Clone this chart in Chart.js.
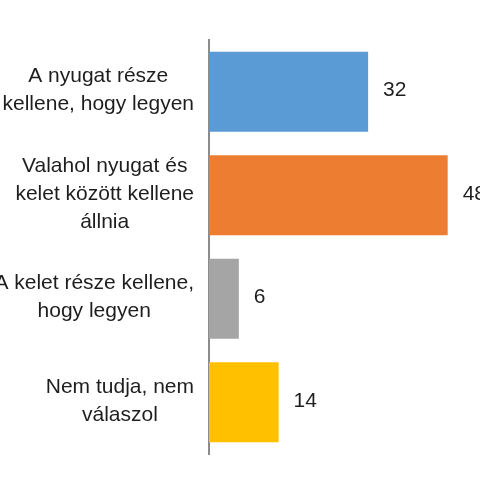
<!DOCTYPE html>
<html lang="hu">
<head>
    <meta charset="UTF-8">
    <title>Nyugat vagy kelet</title>
    <style>
        body {
            margin: 0;
            background-color: #fff;
        }

        .wrap {
            width: 480px;
            height: 480px;
        }
    </style>
</head>
<body>
    <div class="wrap">
        <canvas id="chart" width="480" height="480"></canvas>
    </div>

    <script src="https://cdn.jsdelivr.net/npm/chart.js"></script>
    <script>
        // Data
        const categories = [
            ['A nyugat része', 'kellene, hogy legyen'],
            ['Valahol nyugat és', 'kelet között kellene', 'állnia'],
            ['A kelet része kellene,', 'hogy legyen'],
            ['Nem tudja, nem', 'válaszol']
        ];
        const values = [32, 48, 6, 14];
        const xRange = [0, 54.5];

        const FONT = '21px "Liberation Sans", Arial, sans-serif';
        const TEXT = '#1e1e1e';

        // Category labels (right-aligned block, centered lines) and value labels
        const labelPlugin = {
            id: 'labels',
            afterDraw(chart) {
                const ctx = chart.ctx;
                const yScale = chart.scales.y;
                ctx.save();
                ctx.font = FONT;
                ctx.fillStyle = TEXT;
                ctx.textBaseline = 'middle';

                ctx.textAlign = 'center';
                categories.forEach((lines, i) => {
                    const w = Math.max(...lines.map(l => ctx.measureText(l).width));
                    const cx = chart.chartArea.left - 15 - w / 2;
                    const cy = yScale.getPixelForValue(i) - 1.5;
                    lines.forEach((line, j) => {
                        ctx.fillText(line, cx, cy + (j - (lines.length - 1) / 2) * 28);
                    });
                });

                ctx.textAlign = 'left';
                chart.getDatasetMeta(0).data.forEach((bar, i) => {
                    ctx.fillText(String(values[i]), bar.x + 15, bar.y - 1.5);
                });
                ctx.restore();
            }
        };

        new Chart(document.getElementById('chart'), {
            type: 'bar',
            data: {
                labels: categories,
                datasets: [{
                    data: values,
                    backgroundColor: ['#5B9BD5', '#ED7D31', '#A5A5A5', '#FFC000'],
                    borderWidth: 0,
                    barPercentage: 0.775,
                    categoryPercentage: 1
                }]
            },
            options: {
                indexAxis: 'y',
                responsive: false,
                animation: false,
                layout: {
                    padding: { left: 209, right: 0, top: 40, bottom: 26 }
                },
                plugins: {
                    legend: { display: false },
                    tooltip: { enabled: false }
                },
                scales: {
                    x: {
                        display: false,
                        min: xRange[0],
                        max: xRange[1]
                    },
                    y: {
                        grid: { display: false },
                        ticks: { display: false },
                        border: { color: '#8c8c8c', width: 2 },
                        afterFit(scale) { scale.width = 0; }
                    }
                }
            },
            plugins: [labelPlugin]
        });
    </script>
</body>
</html>
